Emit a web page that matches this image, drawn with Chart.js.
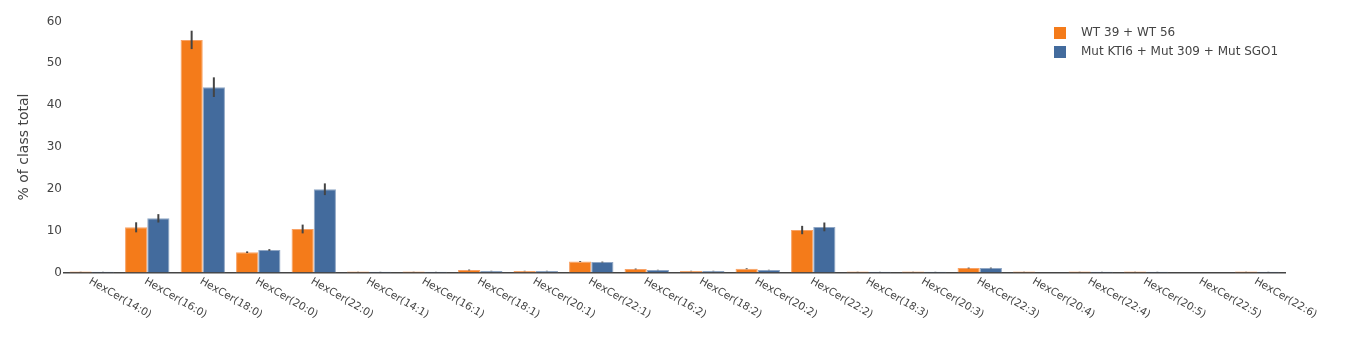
<!DOCTYPE html>
<html>
<head>
<meta charset="utf-8">
<script src="https://cdn.jsdelivr.net/npm/chart.js@4.4.1/dist/chart.umd.min.js"></script>
<style>
  html, body { margin: 0; padding: 0; background: #fff; }
  #wrap { width: 1371px; height: 338px; }
</style>
</head>
<body>
<div id="wrap"><canvas id="c" width="1371" height="338"></canvas></div>
<script>
const categories = ["HexCer(14:0)","HexCer(16:0)","HexCer(18:0)","HexCer(20:0)","HexCer(22:0)","HexCer(14:1)","HexCer(16:1)","HexCer(18:1)","HexCer(20:1)","HexCer(22:1)","HexCer(16:2)","HexCer(18:2)","HexCer(20:2)","HexCer(22:2)","HexCer(18:3)","HexCer(20:3)","HexCer(22:3)","HexCer(20:4)","HexCer(22:4)","HexCer(20:5)","HexCer(22:5)","HexCer(22:6)"];
const seriesNames = ["WT 39 + WT 56", "Mut KTI6 + Mut 309 + Mut SGO1"];
const wtValues  = [0.25, 10.8, 55.6, 4.85, 10.4, 0.25, 0.25, 0.6, 0.36, 2.65, 0.84, 0.36, 0.9, 10.15, 0.25, 0.25, 1.07, 0.25, 0.25, 0.25, 0, 0.25];
const wtErrors  = [0.02, 1.2, 2.2, 0.2, 1.05, 0.02, 0.02, 0.1, 0.05, 0.1, 0.1, 0.05, 0.1, 1.0, 0.02, 0.02, 0.1, 0.02, 0.02, 0.02, 0, 0.02];
const mutValues = [0.2, 12.95, 44.3, 5.38, 19.9, 0.2, 0.2, 0.36, 0.36, 2.5, 0.6, 0.36, 0.6, 10.9, 0.2, 0.2, 1.07, 0, 0.2, 0.2, 0, 0.2];
const mutErrors = [0.02, 1.0, 2.35, 0.2, 1.4, 0.02, 0.02, 0.05, 0.05, 0.1, 0.05, 0.05, 0.05, 1.05, 0.02, 0.02, 0.1, 0, 0.02, 0.02, 0, 0.02];
const yTicks = [0, 10, 20, 30, 40, 50, 60];

const ORANGE = '#f47b1a';
const BLUE = '#436b9d';
const TEXT = '#444444';
const FONT = "'DejaVu Sans', Verdana, sans-serif";

const errorBars = {
  id: 'errorBars',
  afterDatasetsDraw(chart) {
    const ctx = chart.ctx;
    const y = chart.scales.y;
    chart.data.datasets.forEach((ds, di) => {
      const meta = chart.getDatasetMeta(di);
      meta.data.forEach((el, i) => {
        const v = ds.data[i], e = ds.errors[i];
        if (!e) return;
        ctx.save();
        ctx.strokeStyle = TEXT;
        ctx.lineWidth = 2;
        ctx.beginPath();
        ctx.moveTo(el.x, y.getPixelForValue(v + e));
        ctx.lineTo(el.x, y.getPixelForValue(v - e));
        ctx.stroke();
        ctx.restore();
      });
    });
  }
};

const rotatedLabels = {
  id: 'rotatedLabels',
  afterDraw(chart) {
    const ctx = chart.ctx;
    const x = chart.scales.x;
    const base = chart.chartArea.bottom;
    ctx.save();
    ctx.fillStyle = TEXT;
    ctx.font = "10.5px " + FONT;
    ctx.textAlign = 'left';
    ctx.textBaseline = 'top';
    categories.forEach((c, i) => {
      const px = x.getPixelForTick(i);
      ctx.save();
      ctx.translate(px + 0.5, base + 3.5);
      ctx.rotate(30 * Math.PI / 180);
      ctx.fillText(c, 0, 0);
      ctx.restore();
    });
    ctx.restore();
  }
};

const legendPlugin = {
  id: 'customLegend',
  afterDraw(chart) {
    const ctx = chart.ctx;
    const colors = [ORANGE, BLUE];
    ctx.save();
    ctx.font = "12px " + FONT;
    ctx.textBaseline = 'middle';
    ctx.textAlign = 'left';
    seriesNames.forEach((n, i) => {
      const yy = 27 + i * 19;
      ctx.fillStyle = colors[i];
      ctx.fillRect(1054, yy, 12, 12);
      ctx.fillStyle = TEXT;
      ctx.fillText(n, 1081, yy + 6);
    });
    ctx.restore();
  }
};

new Chart(document.getElementById('c'), {
  type: 'bar',
  data: {
    labels: categories,
    datasets: [
      { label: seriesNames[0], data: wtValues, errors: wtErrors, backgroundColor: ORANGE,
        borderColor: '#f8a266', borderWidth: 1, categoryPercentage: 0.8, barPercentage: 1.0 },
      { label: seriesNames[1], data: mutValues, errors: mutErrors, backgroundColor: BLUE,
        borderColor: '#8fa6c4', borderWidth: 1, categoryPercentage: 0.8, barPercentage: 1.0 }
    ]
  },
  options: {
    responsive: false,
    animation: false,
    devicePixelRatio: 1,
    layout: { padding: { top: 21.5, right: 86, bottom: 65.5, left: 0 } },
    plugins: { legend: { display: false }, tooltip: { enabled: false } },
    scales: {
      x: {
        grid: { display: false, drawTicks: false },
        border: { display: true, color: TEXT, width: 1.5 },
        ticks: { display: false }
      },
      y: {
        min: 0, max: 60,
        afterFit(s) { s.width = 64; },
        afterBuildTicks(s) { s.ticks = yTicks.map(v => ({ value: v })); },
        grid: { display: false, drawTicks: false },
        border: { display: false },
        ticks: { color: TEXT, font: { family: FONT, size: 12 }, padding: 2 },
        title: { display: true, text: '% of class total', color: TEXT,
                 font: { family: FONT, size: 14 }, padding: { top: 16, bottom: 0 } }
      }
    }
  },
  plugins: [errorBars, rotatedLabels, legendPlugin]
});
</script>
</body>
</html>
